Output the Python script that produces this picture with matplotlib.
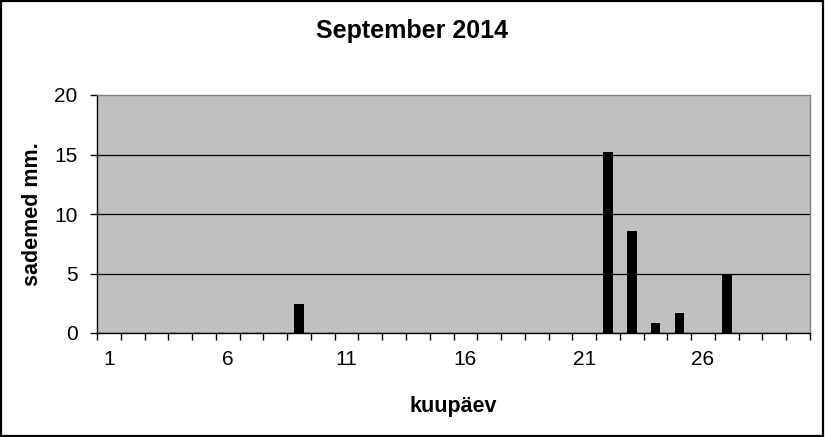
import matplotlib
matplotlib.use("Agg")
import matplotlib.pyplot as plt
from matplotlib.patches import Rectangle
from matplotlib.ticker import FixedLocator, NullFormatter

plt.rcParams['font.family'] = ['Liberation Sans', 'DejaVu Sans']

days = list(range(1, 31))
rain = [0, 0, 0, 0, 0, 0, 0, 0, 2.4, 0,
        0, 0, 0, 0, 0, 0, 0, 0, 0, 0,
        0, 15.2, 8.6, 0.8, 1.7, 0, 5.0, 0, 0, 0]
x_labels = [1, 6, 11, 16, 21, 26]
y_ticks = [0, 5, 10, 15, 20]

fig = plt.figure(figsize=(8.25, 4.37), dpi=100)
fig.patch.set_facecolor('white')
ax = fig.add_axes([97/825, 1 - 333/437, (810-97)/825, (333-95)/437])
ax.set_facecolor('#c0c0c0')

ax.bar(days, rain, width=0.4, color='black', zorder=3)

ax.set_xlim(0.5, 30.5)
ax.set_ylim(0, 20)

# y axis
ax.set_yticks(y_ticks)
ax.tick_params(axis='y', direction='out', length=5, width=1, pad=9, labelsize=15, color='black')
ax.grid(axis='y', color='black', linewidth=0.9, zorder=1)
ax.set_axisbelow(True)

# x axis: ticks at category boundaries, labels at category centres
ax.xaxis.set_major_locator(FixedLocator([d + 0.5 for d in [0] + days]))
ax.xaxis.set_major_formatter(NullFormatter())
ax.xaxis.set_minor_locator(FixedLocator(x_labels))
ax.set_xticklabels([str(v) for v in x_labels], minor=True)
ax.tick_params(axis='x', which='major', direction='out', length=5, width=1, color='black')
ax.tick_params(axis='x', which='minor', length=0, pad=12, labelsize=15)

for s in ['left', 'bottom']:
    ax.spines[s].set_color('black')
    ax.spines[s].set_linewidth(1)
for s in ['top', 'right']:
    ax.spines[s].set_color('#808080')
    ax.spines[s].set_linewidth(1)

ax.set_xlabel('kuupäev', fontsize=15.5, fontweight='bold', labelpad=20)
ax.set_ylabel('sademed mm.', fontsize=15.5, fontweight='bold', labelpad=8)
fig.suptitle('September 2014', fontsize=18, fontweight='bold', y=1 - 31/437, va='center')

fig.canvas.draw()
for gl, t in zip(ax.yaxis.get_gridlines(), ax.get_yticks()):
    if t >= 20:
        gl.set_visible(False)

fig.patches.append(Rectangle((0.001, 0.002), 0.997, 0.996, transform=fig.transFigure,
                             fill=False, edgecolor='black', linewidth=1.6))

fig.savefig('out.png', dpi=100)
